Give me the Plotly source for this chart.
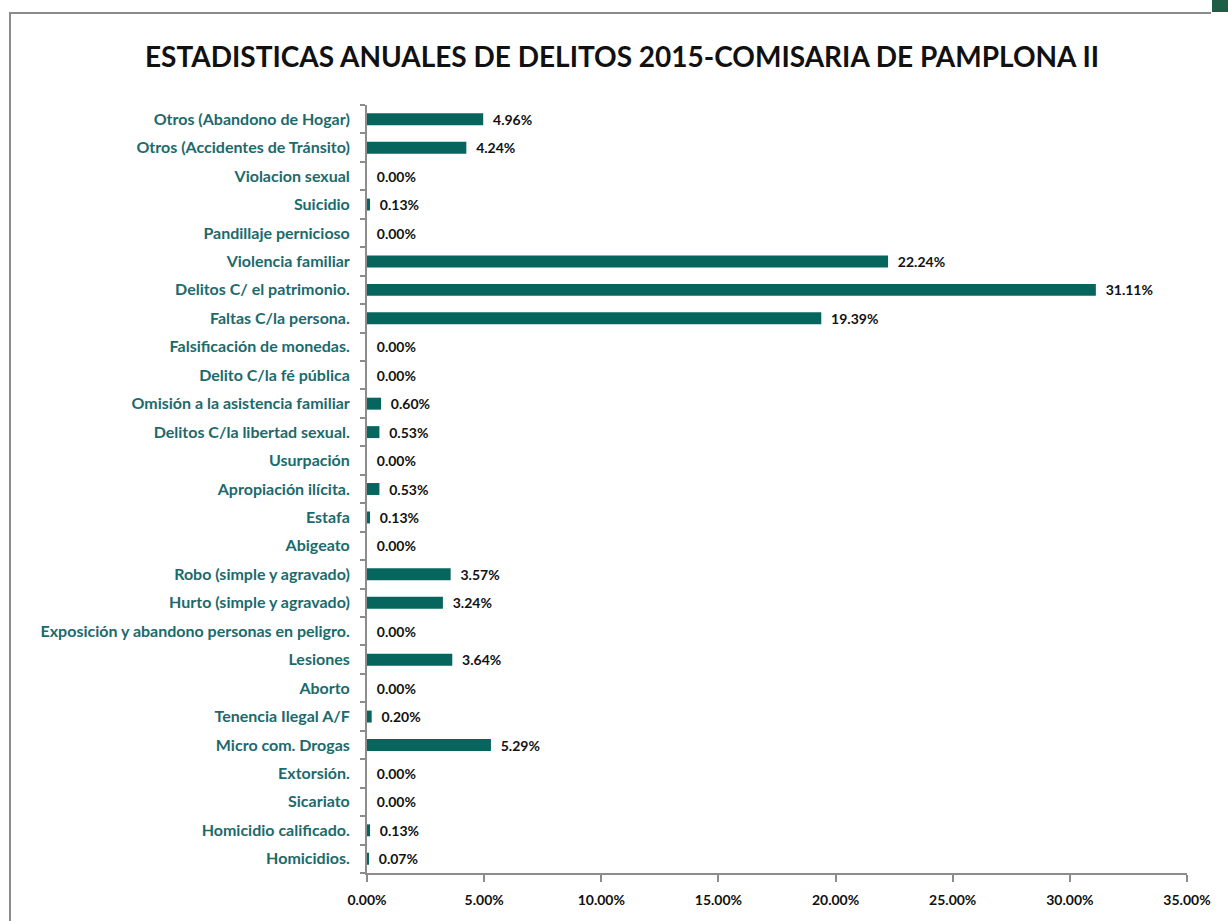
import plotly.graph_objects as go

categories = [
    "Homicidios.", "Homicidio calificado.", "Sicariato", "Extorsión.",
    "Micro com. Drogas", "Tenencia Ilegal A/F", "Aborto", "Lesiones",
    "Exposición y abandono personas en peligro.", "Hurto (simple y agravado)",
    "Robo (simple y agravado)", "Abigeato", "Estafa", "Apropiación ilícita.",
    "Usurpación", "Delitos C/la libertad sexual.", "Omisión a la asistencia familiar",
    "Delito C/la fé pública", "Falsificación de monedas.", "Faltas C/la persona.",
    "Delitos C/ el patrimonio.", "Violencia familiar", "Pandillaje pernicioso",
    "Suicidio", "Violacion sexual", "Otros (Accidentes de Tránsito)",
    "Otros (Abandono de Hogar)",
]
values = [
    0.07, 0.13, 0.00, 0.00,
    5.29, 0.20, 0.00, 3.64,
    0.00, 3.24,
    3.57, 0.00, 0.13, 0.53,
    0.00, 0.53, 0.60,
    0.00, 0.00, 19.39,
    31.11, 22.24, 0.00,
    0.13, 0.00, 4.24,
    4.96,
]
x_ticks = [0, 5, 10, 15, 20, 25, 30, 35]
title_text = "ESTADISTICAS ANUALES DE DELITOS 2015-COMISARIA DE PAMPLONA II"

FONT = "Lato"
BAR = "#06665e"
LABEL = "#1b6a6c"
AXIS = "#8c8c8c"

fig = go.Figure(go.Bar(
    y=categories,
    x=values,
    orientation="h",
    marker=dict(color=BAR, line=dict(width=0)),
    text=[f"  {v:.2f}%" for v in values],
    textposition="outside",
    constraintext="none",
    cliponaxis=False,
    textfont=dict(family=FONT, size=14, color="#111111", weight="bold"),
))

W, H = 1228, 921
L, R, T, B = 367, 41, 105, 48
pw, ph = W - L - R, H - T - B

def px(x):
    return (x - L) / pw

def py(y):
    return 1 - (y - T) / ph

fig.update_layout(
    width=W, height=H,
    margin=dict(l=L, r=R, t=T, b=B, pad=0),
    paper_bgcolor="white", plot_bgcolor="white",
    showlegend=False,
    bargap=0.58,
    title=dict(
        text=title_text,
        font=dict(family=FONT, size=28, color="#111111", weight="bold"),
        x=px(622), xref="paper", xanchor="center",
        y=1 - 57 / H, yref="container", yanchor="middle",
    ),
    xaxis=dict(
        range=[0, 35],
        tickvals=x_ticks,
        ticktext=[f"{t:.2f}%" for t in x_ticks],
        showgrid=False, zeroline=False,
        showline=True, linecolor=AXIS, linewidth=2,
        ticks="outside", ticklen=7, tickwidth=2, tickcolor=AXIS,
        ticklabelstandoff=6,
        tickfont=dict(family=FONT, size=14, color="#111111", weight="bold"),
        fixedrange=True,
    ),
    yaxis=dict(
        type="category",
        categoryorder="array", categoryarray=categories,
        showgrid=False, zeroline=False,
        showline=True, linecolor=AXIS, linewidth=2,
        ticks="outside", ticklen=5, tickwidth=2, tickcolor=AXIS,
        tickson="boundaries",
        ticklabelstandoff=12,
        tickfont=dict(family=FONT, size=16, color=LABEL, weight="bold"),
        fixedrange=True,
    ),
    shapes=[
        dict(type="line", xref="paper", yref="paper",
             x0=px(10), x1=px(10), y0=py(13), y1=py(H + 5),
             line=dict(color=AXIS, width=2)),
        dict(type="line", xref="paper", yref="paper",
             x0=px(9), x1=px(1211), y0=py(13), y1=py(13),
             line=dict(color=AXIS, width=2)),
        dict(type="rect", xref="paper", yref="paper",
             x0=px(1212), x1=px(1232), y0=py(-2), y1=py(12),
             fillcolor="#1e5e46", line=dict(width=0)),
    ],
)

fig.write_html(
    "out.html",
    config={"displayModeBar": False},
    post_script="document.body.style.margin='0';document.body.style.overflow='hidden';",
)
